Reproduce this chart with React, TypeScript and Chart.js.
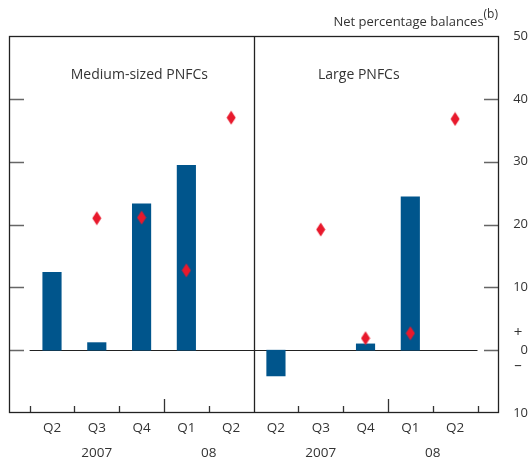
import React, { useEffect, useRef } from 'react';
import { Chart, registerables } from 'chart.js';

Chart.register(...registerables);

// ---- data ----
const categories = ['Q2', 'Q3', 'Q4', 'Q1', 'Q2', 'Q2', 'Q3', 'Q4', 'Q1', 'Q2'];
const barValues = [12.4, 1.2, 23.3, 29.4, null, -4.1, null, 1.0, 24.4, null];
const diamondValues = [null, 21.0, 21.1, 12.7, 37.0, null, 19.2, 1.9, 2.7, 36.8];
const panelTitles = ['Medium-sized PNFCs', 'Large PNFCs'];
const yearLabels = ['2007', '08', '2007', '08'];
const yearSpanStart = [0, 3, 5, 8];
const yearSpanEnd = [2, 4, 7, 9];
const yMin = -10;
const yMax = 50;
const yStep = 10;
const axisTitle = 'Net percentage balances';
const axisTitleNote = '(b)';

const FONT = '"Open Sans", "Noto Sans", sans-serif';
const BLUE = '#00558c';
const RED = '#e8192c';
const TEXT = '#333333';

function makeDiamond(): HTMLCanvasElement {
  const c = document.createElement('canvas');
  c.width = 10;
  c.height = 15;
  const g = c.getContext('2d')!;
  g.fillStyle = RED;
  g.beginPath();
  g.moveTo(5, 0.5);
  g.lineTo(9.5, 7.5);
  g.lineTo(5, 14.5);
  g.lineTo(0.5, 7.5);
  g.closePath();
  g.fill();
  return c;
}

const decorPlugin = {
  id: 'decor',
  beforeDatasetsDraw(chart: any) {
    const { ctx, chartArea } = chart;
    const x = chart.scales.x;
    const y = chart.scales.y;
    const { left, right, top, bottom } = chartArea;
    ctx.save();
    // y tick marks on both sides, inside
    ctx.strokeStyle = '#666';
    ctx.lineWidth = 1.5;
    for (let v = yMin + yStep; v < yMax; v += yStep) {
      const py = Math.round(y.getPixelForValue(v)) + 0.5;
      ctx.beginPath();
      ctx.moveTo(left, py);
      ctx.lineTo(left + 15, py);
      ctx.moveTo(right - 15, py);
      ctx.lineTo(right, py);
      ctx.stroke();
    }
    // zero line across categories
    const half = (x.getPixelForValue(1) - x.getPixelForValue(0)) / 2;
    const z = Math.round(y.getPixelForValue(0)) + 0.5;
    ctx.strokeStyle = '#222';
    ctx.lineWidth = 1.2;
    ctx.beginPath();
    ctx.moveTo(x.getPixelForValue(0) - half, z);
    ctx.lineTo(x.getPixelForValue(categories.length - 1) + half, z);
    ctx.stroke();
    // x tick marks at category boundaries
    ctx.strokeStyle = '#333';
    ctx.lineWidth = 1.3;
    for (let i = -1; i < categories.length; i++) {
      if (i === 4) continue;
      const px = Math.round(x.getPixelForValue(i) + half) + 0.5;
      const tall = i === 2 || i === 7;
      ctx.beginPath();
      ctx.moveTo(px, bottom);
      ctx.lineTo(px, bottom - (tall ? 14 : 7));
      ctx.stroke();
    }
    // frame and panel divider
    ctx.strokeStyle = '#222';
    ctx.lineWidth = 1.3;
    ctx.strokeRect(left + 0.5, top + 0.5, right - left - 1, bottom - top - 1);
    const dx = Math.round(x.getPixelForValue(4) + half) + 0.5;
    ctx.beginPath();
    ctx.moveTo(dx, top);
    ctx.lineTo(dx, bottom);
    ctx.stroke();

    // text
    ctx.fillStyle = TEXT;
    ctx.textBaseline = 'middle';
    ctx.textAlign = 'center';
    ctx.font = `14px ${FONT}`;
    ctx.fillText(panelTitles[0], x.getPixelForValue(1.95), top + 39);
    ctx.fillText(panelTitles[1], x.getPixelForValue(6.85), top + 39);
    ctx.font = `13.5px ${FONT}`;
    for (let k = 0; k < yearLabels.length; k++) {
      const cx = (x.getPixelForValue(yearSpanStart[k]) + x.getPixelForValue(yearSpanEnd[k])) / 2;
      ctx.fillText(yearLabels[k], cx, bottom + 40);
    }
    // axis title with superscript
    ctx.textAlign = 'right';
    ctx.font = `12px ${FONT}`;
    const noteW = ctx.measureText(axisTitleNote).width;
    ctx.fillText(axisTitleNote, right - 1, top - 21);
    ctx.font = `13px ${FONT}`;
    ctx.fillText(axisTitle, right - 1 - noteW, top - 14);
    // + and - around zero
    ctx.textAlign = 'center';
    ctx.font = `15px ${FONT}`;
    const zy = y.getPixelForValue(0);
    ctx.fillText('+', right + 19, zy - 17);
    ctx.fillText('\u2013', right + 19, zy + 16);
    ctx.restore();
  },
};

export default function App() {
  const ref = useRef<HTMLCanvasElement | null>(null);
  useEffect(() => {
    if (!ref.current) return;
    const diamond = makeDiamond();
    const chart = new Chart(ref.current, {
      type: 'bar',
      data: {
        datasets: [
          {
            type: 'line',
            label: 'diamonds',
            data: diamondValues.map((v, i) => ({ x: i, y: v })) as any,
            showLine: false,
            pointStyle: diamond as any,
            pointRadius: 6,
            borderColor: RED,
            backgroundColor: RED,
            order: 0,
          } as any,
          {
            type: 'bar',
            label: 'bars',
            data: barValues.map((v, i) => ({ x: i, y: v })) as any,
            backgroundColor: BLUE,
            borderWidth: 0,
            barThickness: 18.5,
            order: 1,
          } as any,
        ],
      },
      options: {
        animation: false,
        responsive: false,
        maintainAspectRatio: false,
        layout: { padding: { top: 36, left: 9, right: 0, bottom: 0 } },
        plugins: {
          legend: { display: false },
          tooltip: { enabled: false },
          title: { display: false },
        },
        scales: {
          x: {
            type: 'linear',
            min: -0.96,
            max: 9.98,
            offset: false,
            grid: { display: false },
            border: { display: false },
            afterBuildTicks: (s: any) => {
              s.ticks = categories.map((_, i) => ({ value: i }));
            },
            ticks: {
              color: TEXT,
              font: { family: FONT, size: 13.5 },
              padding: -1,
              maxRotation: 0,
              autoSkip: false,
              callback: (v: any) => categories[Number(v)] ?? '',
            },
            afterFit: (s: any) => {
              s.height = 48;
            },
          },
          y: {
            position: 'right',
            min: yMin,
            max: yMax,
            grid: { display: false },
            border: { display: false },
            ticks: {
              stepSize: yStep,
              color: TEXT,
              font: { family: FONT, size: 13 },
              crossAlign: 'far',
              padding: 13,
              callback: (v: any) => String(Math.abs(Number(v))),
            },
            afterFit: (s: any) => {
              s.width = 29;
            },
          },
        },
      },
      plugins: [decorPlugin],
    });
    return () => chart.destroy();
  }, []);
  return (
    <div style={{ position: 'absolute', left: 0, top: 0, width: 528, height: 461, background: '#fff' }}>
      <canvas ref={ref} width={528} height={461} style={{ display: 'block' }} />
    </div>
  );
}
